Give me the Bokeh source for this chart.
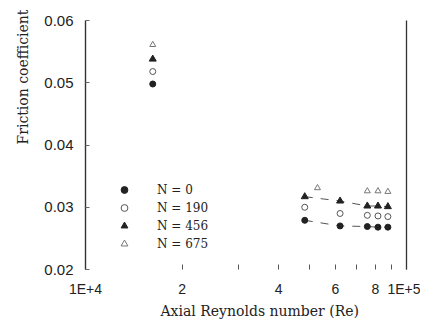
from bokeh.plotting import figure
from bokeh.models import FixedTicker, Legend, LegendItem, LinearAxis, Range1d, Title
from bokeh.embed import file_html
from bokeh.resources import INLINE

# Data
re_main = [16200, 48200, 62100, 75500, 81500, 87500]
f_n0 = [0.0498, 0.0279, 0.0270, 0.0269, 0.0268, 0.0268]
f_n190 = [0.0518, 0.0300, 0.0290, 0.0287, 0.0286, 0.0285]
f_n456 = [0.0538, 0.0317, 0.0310, 0.0302, 0.0302, 0.0301]
re_n675 = [16200, 52800, 75500, 81500, 87500]
f_n675 = [0.0561, 0.0331, 0.0326, 0.0326, 0.0325]

series_labels = ["N = 0", "N = 190", "N = 456", "N = 675"]

x_tick_values = [10000, 20000, 40000, 60000, 80000, 100000]
x_tick_labels = ["1E+4", "2", "4", "6", "8", "1E+5"]
x_minor_ticks = [30000, 50000, 70000, 90000]
y_tick_values = [0.02, 0.03, 0.04, 0.05, 0.06]
y_tick_labels = ["0.02", "0.03", "0.04", "0.05", "0.06"]
x_title = "Axial Reynolds number (Re)"
y_title = "Friction coefficient"

INK = "#222222"

p = figure(width=420, height=320, x_axis_type="log",
           x_range=Range1d(10000, 100000), y_range=Range1d(0.02, 0.06),
           output_backend="svg", toolbar_location=None,
           min_border_left=85, min_border_top=20, min_border_right=14,
           min_border_bottom=48)
p.title.visible = False
p.xgrid.visible = False
p.ygrid.visible = False
p.outline_line_color = None
p.background_fill_color = "white"
p.border_fill_color = "white"

# x axis
xa = p.xaxis[0]
xa.ticker = FixedTicker(ticks=x_tick_values, minor_ticks=x_minor_ticks)
xa.major_label_overrides = dict(zip(x_tick_values, x_tick_labels))
xa.axis_line_color = None
xa.major_tick_in = 5
xa.major_tick_out = 0
xa.minor_tick_in = 5
xa.minor_tick_out = 0
xa.major_tick_line_color = "#555555"
xa.minor_tick_line_color = "#555555"
xa.major_label_standoff = 11
xa.major_label_text_font = "Liberation Sans"
xa.major_label_text_font_size = "14px"
xa.major_label_text_color = INK

# y axis
ya = p.yaxis[0]
ya.ticker = FixedTicker(ticks=y_tick_values)
ya.major_label_overrides = dict(zip(y_tick_values, y_tick_labels))
ya.axis_line_color = "#333333"
ya.axis_line_width = 1.4
ya.major_tick_in = 4
ya.major_tick_out = 0
ya.major_tick_line_color = "#666666"
ya.minor_tick_line_color = None
ya.major_label_standoff = 12
ya.major_label_text_font = "Liberation Sans"
ya.major_label_text_font_size = "15px"
ya.major_label_text_color = INK

# right frame line
ra = LinearAxis(ticker=FixedTicker(ticks=[]), axis_line_color="#333333",
                axis_line_width=1.3, major_tick_line_color=None,
                minor_tick_line_color=None, major_tick_in=0, major_tick_out=0,
                minor_tick_in=0, minor_tick_out=0, major_label_standoff=0,
                axis_label_standoff=0, major_label_text_font_size="0px")
p.add_layout(ra, "right")

# axis titles (side titles so they can sit off-centre like the original)
p.add_layout(Title(text=x_title, align="left", offset=75, standoff=3,
                   text_font="DejaVu Serif", text_font_size="14px",
                   text_font_style="normal", text_color=INK), "below")
p.add_layout(Title(text=y_title, align="left", offset=125, standoff=22,
                   text_font="DejaVu Serif", text_font_size="14px",
                   text_font_style="normal", text_color=INK), "left")

# connecting dashed lines (right cluster)
p.line(re_main[1:], f_n0[1:], line_color="#555555", line_width=1, line_dash="8 8")
p.line(re_main[1:], f_n456[1:], line_color="#555555", line_width=1, line_dash="8 8")

r0 = p.scatter(re_main, f_n0, marker="circle", size=6, fill_color=INK, line_color=INK)
r190 = p.scatter(re_main, f_n190, marker="circle", size=6, fill_color=None,
                 line_color="#555555", line_width=1)
r456 = p.scatter(re_main, f_n456, marker="triangle", size=7, fill_color=INK, line_color=INK)
r675 = p.scatter(re_n675, f_n675, marker="triangle", size=6, fill_color=None,
                 line_color="#777777", line_width=1)

legend = Legend(items=[LegendItem(label=series_labels[0], renderers=[r0]),
                       LegendItem(label=series_labels[1], renderers=[r190]),
                       LegendItem(label=series_labels[2], renderers=[r456]),
                       LegendItem(label=series_labels[3], renderers=[r675])],
                location=(29, 17), background_fill_alpha=0, border_line_color=None,
                glyph_width=20, glyph_height=17, label_height=17, spacing=1,
                padding=0, margin=0, label_standoff=23,
                label_text_font="DejaVu Serif", label_text_font_size="12px",
                label_text_color=INK)
p.add_layout(legend)

open("out.html", "w").write(file_html(p, INLINE))
